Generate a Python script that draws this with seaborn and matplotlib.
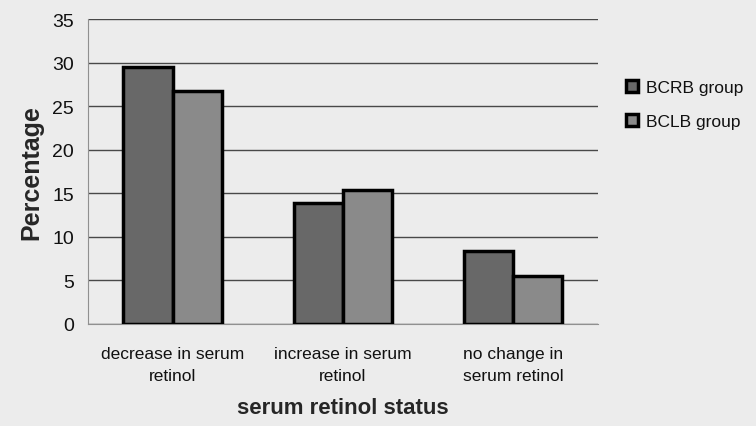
import pandas as pd
import seaborn as sns
import matplotlib.pyplot as plt

categories = ["decrease in serum\nretinol", "increase in serum\nretinol", "no change in\nserum retinol"]
bcrb = [29.5, 13.9, 8.4]
bclb = [26.7, 15.4, 5.5]
groups = ["BCRB group", "BCLB group"]

df = pd.DataFrame({
    "status": categories * 2,
    "value": bcrb + bclb,
    "group": [groups[0]] * 3 + [groups[1]] * 3,
})

sns.set_style("white")
plt.rcParams['font.family'] = ['Liberation Sans', 'DejaVu Sans']
plt.rcParams['text.color'] = '#111111'
plt.rcParams['xtick.color'] = '#111111'
plt.rcParams['ytick.color'] = '#111111'

fig = plt.figure(figsize=(7.56, 4.27), dpi=100, facecolor="#ececec")
ax = fig.add_axes([0.116, 0.239, 0.675, 0.714])
ax.set_facecolor("#ececec")

sns.barplot(data=df, x="status", y="value", hue="group", order=categories,
            hue_order=groups, palette=["#686868", "#8a8a8a"], width=0.58,
            edgecolor="black", linewidth=2.5, saturation=1, ax=ax, zorder=3)

ax.set_ylim(0, 35)
ax.set_xlim(-0.5, 2.5)
ax.set_yticks(range(0, 36, 5))
ax.yaxis.grid(True, color="#484848", linewidth=1, zorder=0)
ax.set_axisbelow(True)
for s in ["top", "right"]:
    ax.spines[s].set_visible(False)
ax.spines["left"].set_color("#909090")
ax.spines["bottom"].set_color("#909090")

ax.set_xticks([-0.5, 0.5, 1.5, 2.5], minor=True)
ax.tick_params(axis="x", which="minor", length=4, color="#606060")
ax.tick_params(axis="x", which="major", length=0, labelsize=12.5, pad=16)
ax.tick_params(axis="y", length=5, color="#606060", labelsize=14, pad=5)
for lab in ax.get_xticklabels():
    lab.set_linespacing(1.6)

ax.set_ylabel("Percentage", fontsize=18, fontweight="bold", labelpad=6)
ax.set_xlabel("serum retinol status", fontsize=16, fontweight="bold", labelpad=10)

ax.legend(loc="upper left", bbox_to_anchor=(1.055, 0.80), frameon=False,
          borderpad=0, borderaxespad=0,
          fontsize=12.5, handlelength=0.7, handleheight=0.7, handletextpad=0.45,
          labelspacing=1.1)

fig.savefig("out.png", dpi=100, facecolor=fig.get_facecolor())
